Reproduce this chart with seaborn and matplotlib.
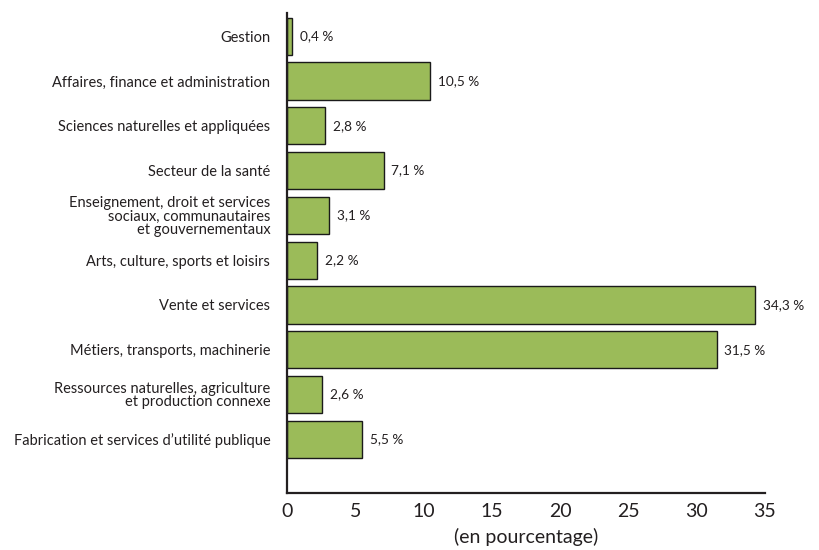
import matplotlib
matplotlib.use("Agg")
import matplotlib.pyplot as plt
import seaborn as sns
import pandas as pd

# --- DATOS ---
categories = [
    "Gestion",
    "Affaires, finance et administration",
    "Sciences naturelles et appliquées",
    "Secteur de la santé",
    "Enseignement, droit et services\nsociaux, communautaires\net gouvernementaux",
    "Arts, culture, sports et loisirs",
    "Vente et services",
    "Métiers, transports, machinerie",
    "Ressources naturelles, agriculture\net production connexe",
    "Fabrication et services d\u2019utilité publique",
]
values = [0.4, 10.5, 2.8, 7.1, 3.1, 2.2, 34.3, 31.5, 2.6, 5.5]
x_ticks = [0, 5, 10, 15, 20, 25, 30, 35]
x_label = "(en pourcentage)"

df = pd.DataFrame({"cat": categories, "val": values})

sns.set_style("white")
plt.rcParams["font.family"] = ["Lato", "DejaVu Sans"]

fig = plt.figure(figsize=(8.19, 5.5), dpi=100)
ax = fig.add_axes([0.3504, 0.1036, 0.5833, 0.8728])

sns.barplot(data=df, x="val", y="cat", color="#9bbb59", saturation=1,
            edgecolor="#1a1a1a", linewidth=1.0, width=0.83, ax=ax)

for i, v in enumerate(values):
    ax.text(v + 0.55, i, f"{v:.1f} %".replace(".", ","), va="center",
            ha="left", fontsize=9.8, color="#231f20")

ax.set_xlim(0, 35)
ax.set_ylim(10.2, -0.52)
ax.set_xticks(x_ticks)
ax.set_xticklabels([str(t) for t in x_ticks], fontsize=14, color="#231f20")
ax.set_xlabel(x_label, fontsize=14, color="#231f20", labelpad=6)
ax.set_ylabel("")
ax.tick_params(axis="y", length=0, labelsize=10.5, labelcolor="#231f20", pad=12)
ax.tick_params(axis="x", direction="in", length=9, width=1.6, color="#231f20", pad=7)
for lbl in ax.get_yticklabels():
    lbl.set_multialignment("right")
    lbl.set_linespacing(0.95)

sns.despine(ax=ax)
for s in ["left", "bottom"]:
    ax.spines[s].set_linewidth(1.6)
    ax.spines[s].set_color("#231f20")

fig.savefig("out.png", dpi=100)
